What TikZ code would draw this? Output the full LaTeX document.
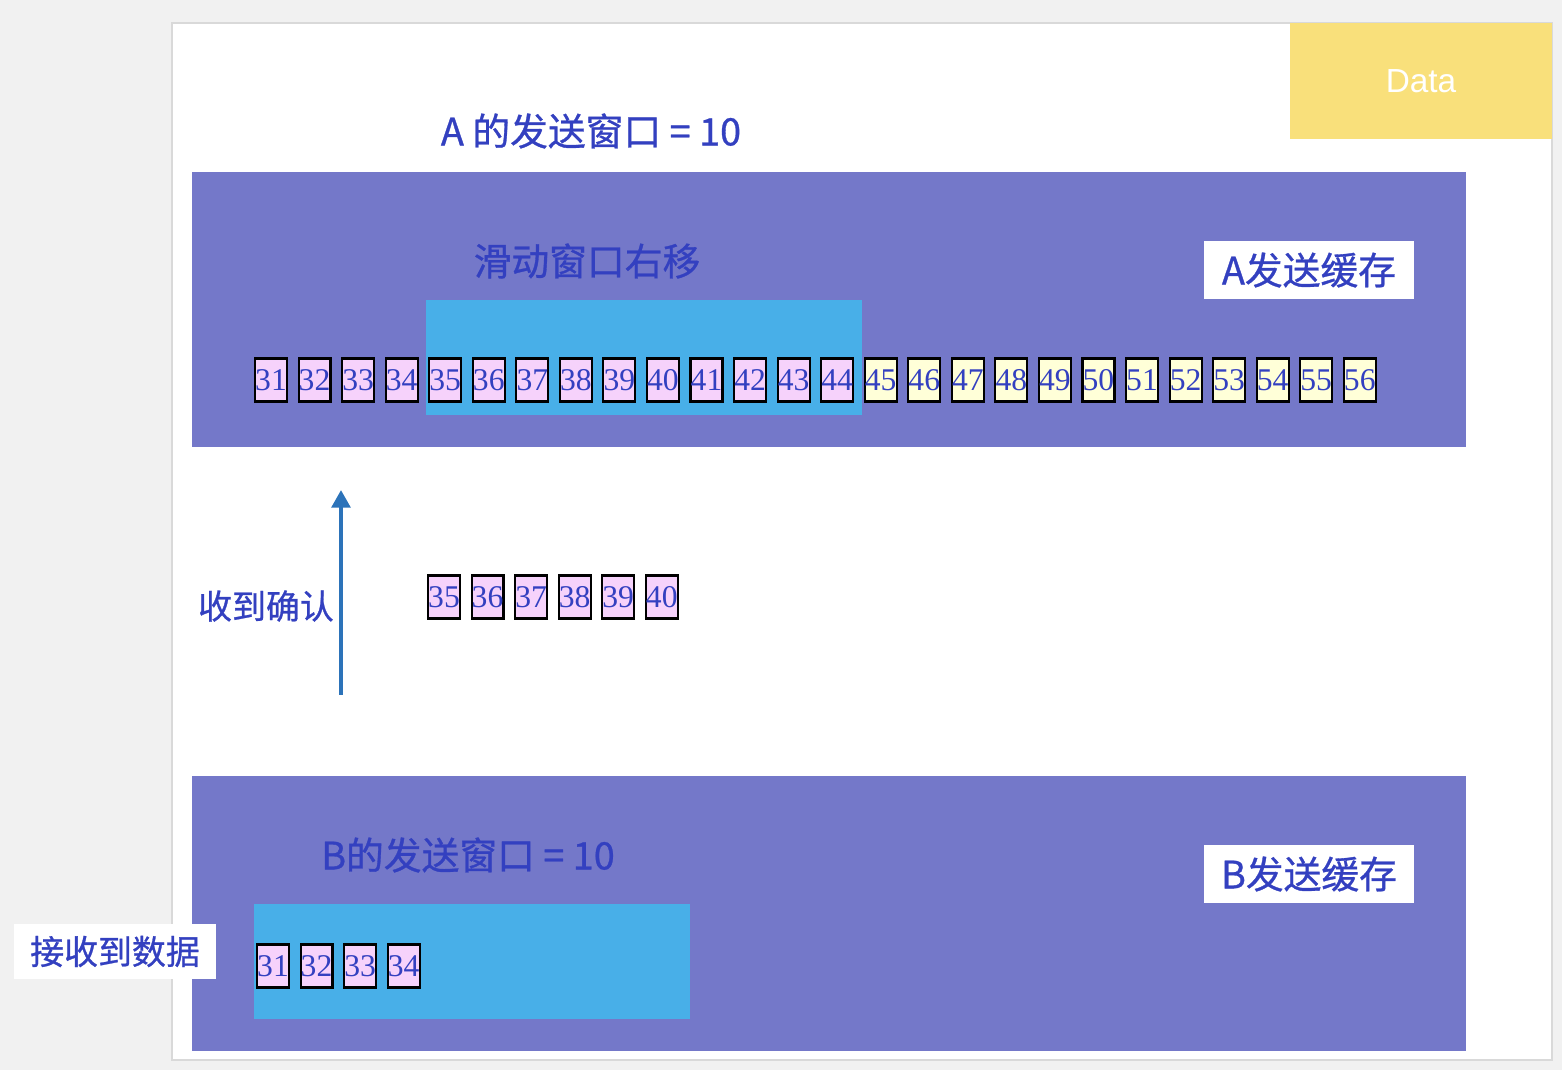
\documentclass[tikz,border=0pt]{standalone}
\usepackage{fontspec}
\setmainfont{Liberation Serif}
\newfontfamily\cjk[FakeBold=0.8]{Noto Sans CJK SC}
\newfontfamily\arialike{Liberation Sans}
\usetikzlibrary{positioning, arrows.meta}

\definecolor{bufpurple}{HTML}{7478C9}
\definecolor{winblue}{HTML}{48AFE8}
\definecolor{txtblue}{HTML}{3340C0}
\definecolor{pinkseg}{HTML}{F6D2FB}
\definecolor{yellowseg}{HTML}{FFFFD8}
\definecolor{datayellow}{HTML}{F9E07B}
\definecolor{arrowblue}{HTML}{2C73B9}
\definecolor{backgrey}{HTML}{F1F1F1}

\tikzset{
  seg/.style={draw=black, line width=1.2pt, minimum width=0.64cm, minimum height=0.86cm,
    inner sep=0pt, text=txtblue, font=\fontsize{18}{18}\selectfont},
  big/.style={text=txtblue, font=\cjk\fontsize{21.5}{22}\selectfont},
  small/.style={text=txtblue, font=\cjk\fontsize{19.3}{20}\selectfont},
  tag/.style={fill=white, minimum width=4.2cm, minimum height=1.18cm, inner sep=0pt},
  ackarrow/.style={arrowblue, line width=2.3pt, -{Triangle[length=10pt, width=10.5pt]}}
}

\begin{document}
\begin{tikzpicture}[x=0.02cm, y=-0.02cm, node distance=0.8712cm, on grid]
    % page
    \fill[backgrey] (0,0) rectangle (1562,1070);
    \filldraw[fill=white, draw=black!15, line width=1pt] (172,23) rectangle (1552,1060);
    \node[fill=datayellow, minimum width=5.24cm, minimum height=2.32cm, inner sep=0pt,
      text=white, font=\arialike\fontsize{19}{19}\selectfont] (data) at (1421,81) {Data};

    % A side
    \node[big] (atitle) at (591,131) {A 的发送窗口 = 10};
    \fill[bufpurple] (192,172) rectangle (1466,447);
    \fill[winblue] (426,300) rectangle (862,415);
    \node[big] (slide) at (587,261) {滑动窗口右移};
    \node[tag, big] (abuf) at (1309,270) {A发送缓存};

    \node[seg, fill=pinkseg] (a31) at (271,380) {31};
    \foreach \n [count=\p from 31] in {32,...,44}
      \node[seg, fill=pinkseg, right=of a\p] (a\n) {\n};
    \foreach \n [count=\p from 44] in {45,...,56}
      \node[seg, fill=yellowseg, right=of a\p] (a\n) {\n};

    % ack
    \coordinate (ackfrom) at (341,695);
    \coordinate (ackto) at (341,490);
    \draw[ackarrow] (ackfrom) -- (ackto);
    \node[small] (ack) at (266,606) {收到确认};

    \node[seg, fill=pinkseg] (m35) at (444,597) {35};
    \foreach \n [count=\p from 35] in {36,...,40}
      \node[seg, fill=pinkseg, right=of m\p] (m\n) {\n};

    % B side
    \fill[bufpurple] (192,776) rectangle (1466,1051);
    \fill[winblue] (254,904) rectangle (690,1019);
    \node[big] (btitle) at (468,855) {B的发送窗口 = 10};
    \node[tag, big] (bbuf) at (1309,874) {B发送缓存};
    \node[tag, small, minimum width=4.04cm, minimum height=1.1cm] (recv) at (115,951.5) {接收到数据};

    \node[seg, fill=pinkseg] (b31) at (273,966) {31};
    \foreach \n [count=\p from 31] in {32,...,34}
      \node[seg, fill=pinkseg, right=of b\p] (b\n) {\n};
\end{tikzpicture}
\end{document}
